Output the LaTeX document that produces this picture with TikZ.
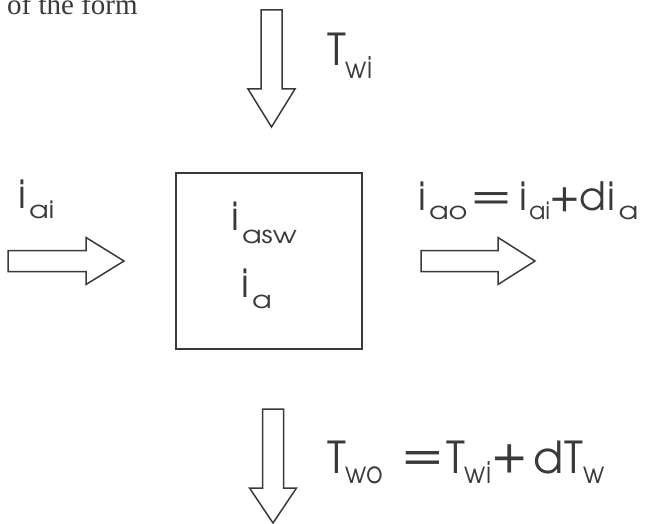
\documentclass[tikz,border=0pt]{standalone}
\usepackage{fontspec}
\setmainfont{Liberation Serif}
\newfontfamily\gothic{TeX Gyre Adventor}
\newfontfamily\gothicwide[FakeStretch=1.2]{TeX Gyre Adventor}
\newfontfamily\gothicnarrow[FakeStretch=0.85]{TeX Gyre Adventor}
\definecolor{ink}{HTML}{3A3A3A}
% label sizes and lowered subscripts
\newcommand\Tsz{\gothic\fontsize{44}{44}\selectfont}
\newcommand\isz{\gothic\fontsize{39}{39}\selectfont}
\newcommand\tsub[2][10]{\raisebox{-#1pt}{\gothicnarrow\fontsize{30}{30}\selectfont #2}}
\newcommand\isub[2][10]{\hspace{3pt}\raisebox{-#1pt}{\gothicwide\fontsize{24}{24}\selectfont #2}}
\newcommand\isubn[2][10]{\hspace{2pt}\raisebox{-#1pt}{\gothic\fontsize{24}{24}\selectfont #2}}
\tikzset{
  arrowline/.style={draw=ink, line width=1.5pt, line join=miter},
  pics/fatarrow/.style args={#1/#2}{code={
    \draw[arrowline] (0,-10.5) -- (#1,-10.5) -- (#1,-23.5) -- (#1+#2,0)
      -- (#1,23.5) -- (#1,10.5) -- (0,10.5) -- cycle;
  }},
  lbl/.style={inner sep=0pt, anchor=base west, text=ink},
  sym/.style={inner sep=0pt, anchor=center, text=ink},
}
\begin{document}
\begin{tikzpicture}[x=1pt, y=-1pt]
  \useasboundingbox (0,0) rectangle (647,524);
  \clip (0,0) rectangle (647,524);

  % running text above the figure
  \node[lbl] (intro) at (7,14.5) {\fontsize{29}{29}\selectfont of the form};

  % control volume
  \node[draw=ink, line width=1.5pt, minimum width=186pt, minimum height=176pt,
        inner sep=0pt] (box) at (269,261) {};

  % water in (top) and out (bottom), air in (left) and out (right)
  \pic[rotate=-90] at (271.5,10) {fatarrow=79/38};
  \pic[rotate=-90] at (273,409) {fatarrow=79/35};
  \pic at (8,261) {fatarrow=78/38};
  \pic at (421,261) {fatarrow=77/37};

  % water side labels
  \node[lbl] (twi) at (327,66) {\Tsz T\tsub[13]{wi}};
  \node[lbl] (two) at (327,473) {\Tsz T\tsub{wo}};
  \node[sym] (eqw) at (422.5,460) {\Tsz\scalebox{1.35}[1.05]{=}};
  \node[lbl] (twi2) at (446,473) {\Tsz T\tsub{wi}};
  \node[sym] (plw) at (509.5,459) {\Tsz\scalebox{1.15}{+}};
  \node[lbl] (dtw) at (533,473) {\Tsz d\hspace{1pt}T\tsub{w}};

  % air side labels
  \node[lbl] (iai) at (18,208) {\isz i\isub{ai}};
  \node[lbl] (iasw) at (231,230) {\isz i\isub[13]{asw}};
  \node[lbl] (ia) at (241,297) {\isz i\isub[11]{a}};
  \node[lbl] (iao) at (418,210) {\isz i\isub[9]{ao}};
  \node[sym] (eqa) at (492,201) {\isz\scalebox{1.5}[1.05]{=}};
  \node[lbl] (iai2) at (519,210) {\isz i\isubn[9]{ai}};
  \node[sym] (pla) at (565,200) {\isz\scalebox{1.1}{+}};
  \node[lbl] (dia) at (579,210) {\isz d\hspace{2pt}i\isub[9]{a}};
\end{tikzpicture}
\end{document}
